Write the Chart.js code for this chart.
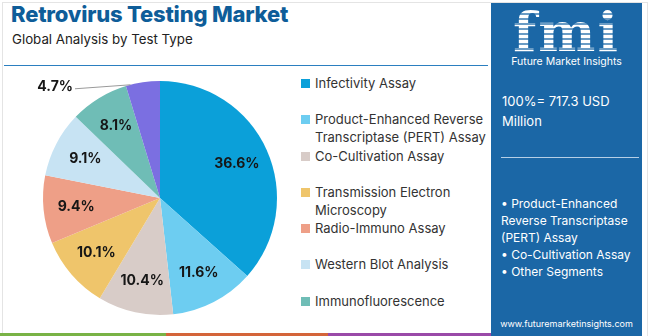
<!DOCTYPE html>
<html>
<head>
<meta charset="utf-8">
<script src="https://cdn.jsdelivr.net/npm/chart.js@4"></script>
<style>
  html, body { margin: 0; padding: 0; background: #fff; }
  body { width: 650px; height: 336px; position: relative; overflow: hidden; font-family: "Open Sans", sans-serif; }
  .frame { position: absolute; left: 2px; top: 2px; width: 644px; height: 334px; border-left: 1px solid #e4e4e4; border-top: 1px solid #e4e4e4; border-right: 1px solid #e4e4e4; }
  h1 { position: absolute; left: 11px; top: 1px; margin: 0; font-family: Inter, sans-serif; font-weight: 800; font-size: 22px; color: #0e5d99; letter-spacing: -0.2px; }
  .sub { position: absolute; left: 12px; top: 31px; font-family: Inter, sans-serif; font-size: 13.3px; color: #222; }
  .rule { position: absolute; left: 4px; top: 65px; width: 484px; height: 1px; background: #2b7fc0; }
  #wrap { position: absolute; left: 0; top: 78px; width: 290px; height: 240px; }
  #legend { position: absolute; left: 300px; top: 74px; width: 190px; font-family: Inter, sans-serif; font-size: 13px; color: #333; }
  #legend .item { height: 36.3px; display: flex; align-items: flex-start; line-height: 18px; }
  #legend .sw { width: 9px; height: 9px; margin: 5px 5px 0 1px; flex: none; }
  .panel { position: absolute; left: 491px; top: 3px; width: 151px; height: 333px; background: #1b67a6; color: #fff; font-family: Inter, sans-serif; }
  .logo { position: absolute; left: 0; top: 2px; width: 151px; text-align: center; }
  .logo .fmi { font-family: "DejaVu Serif", serif; font-weight: bold; font-size: 54px; line-height: 54px; letter-spacing: 2px;
    background: repeating-linear-gradient(#fff 0 3px, rgba(255,255,255,0.35) 3px 5px); -webkit-background-clip: text; background-clip: text; color: transparent; }
  .logo .name { font-size: 10.5px; margin-top: -4px; }
  .total { position: absolute; left: 11px; top: 88px; font-size: 13px; line-height: 20px; }
  .sep { position: absolute; left: 10px; top: 154px; width: 138px; height: 1px; background: #b6cfe6; }
  .segs { position: absolute; left: 10px; top: 192px; font-size: 12px; line-height: 17px; width: 140px; }
  .web { position: absolute; left: 0; width: 151px; top: 315px; text-align: center; font-size: 9px; }
  .strip { position: absolute; top: 333px; height: 3px; }
</style>
</head>
<body>
<div class="frame"></div>
<h1>Retrovirus Testing Market</h1>
<div class="sub">Global Analysis by Test Type</div>
<div class="rule"></div>
<div id="wrap"><canvas id="pieChart"></canvas></div>
<div id="legend"></div>
<div class="panel">
  <div class="logo"><div class="fmi">fmi</div><div class="name">Future Market Insights</div></div>
  <div class="total">100%= 717.3 USD<br>Million</div>
  <div class="sep"></div>
  <div class="segs">• Product-Enhanced Reverse Transcriptase (PERT) Assay<br>• Co-Cultivation Assay<br>• Other Segments</div>
  <div class="web">www.futuremarketinsights.com</div>
</div>
<div class="strip" style="left:0;width:166px;background:#79b346"></div>
<div class="strip" style="left:166px;width:162px;background:#d4653a"></div>
<div class="strip" style="left:328px;width:163px;background:#9a4aa8"></div>

<script>
const segments = [
  'Infectivity Assay',
  'Product-Enhanced Reverse Transcriptase (PERT) Assay',
  'Co-Cultivation Assay',
  'Transmission Electron Microscopy',
  'Radio-Immuno Assay',
  'Western Blot Analysis',
  'Immunofluorescence',
  'Others'
];
const shares = [36.6, 11.6, 10.4, 10.1, 9.4, 9.1, 8.1, 4.7];
const colors = ['#0ba0d9', '#6dcdf1', '#d8ccc8', '#efc56b', '#ee9f87', '#c7e3f3', '#6fbdb6', '#7b6fe1'];
const legendCount = 7;

// legend on the right lists the first seven segments
const legendEl = document.getElementById('legend');
segments.slice(0, legendCount).forEach((name, i) => {
  const item = document.createElement('div');
  item.className = 'item';
  item.innerHTML = '<span class="sw" style="background:' + colors[i] + '"></span><span>' + name + '</span>';
  legendEl.appendChild(item);
});

// percentage labels, the smallest slice gets an outside label with a leader line
const sliceLabels = {
  id: 'sliceLabels',
  afterDatasetsDraw(chart) {
    const ctx = chart.ctx;
    const arcs = chart.getDatasetMeta(0).data;
    ctx.save();
    ctx.font = 'bold 14px Inter, sans-serif';
    ctx.fillStyle = '#161616';
    ctx.textBaseline = 'middle';
    arcs.forEach((arc, i) => {
      const text = shares[i].toFixed(1) + '%';
      const mid = (arc.startAngle + arc.endAngle) / 2;
      if (i === arcs.length - 1) {
        const a = arc.startAngle + 0.04;
        const ex = arc.x + Math.cos(a) * arc.outerRadius;
        const ey = arc.y + Math.sin(a) * arc.outerRadius;
        const tx = arc.x - 85;
        const ty = ey + 4;
        ctx.strokeStyle = '#9a9a9a';
        ctx.lineWidth = 1;
        ctx.beginPath();
        ctx.moveTo(ex, ey);
        ctx.lineTo(tx, ty);
        ctx.stroke();
        ctx.textAlign = 'right';
        ctx.fillText(text, tx - 2, ty - 2);
      } else {
        const r = arc.outerRadius * 0.72;
        ctx.textAlign = 'center';
        ctx.fillText(text, arc.x + Math.cos(mid) * r, arc.y + Math.sin(mid) * r);
      }
    });
    ctx.restore();
  }
};

new Chart(document.getElementById('pieChart'), {
  type: 'pie',
  data: {
    labels: segments,
    datasets: [{
      data: shares,
      backgroundColor: colors,
      borderWidth: 0
    }]
  },
  options: {
    responsive: true,
    maintainAspectRatio: false,
    animation: false,
    layout: { padding: { left: 43, right: 13, top: 3, bottom: 3 } },
    plugins: {
      legend: { display: false },
      tooltip: { enabled: false }
    }
  },
  plugins: [sliceLabels]
});
</script>
</body>
</html>
